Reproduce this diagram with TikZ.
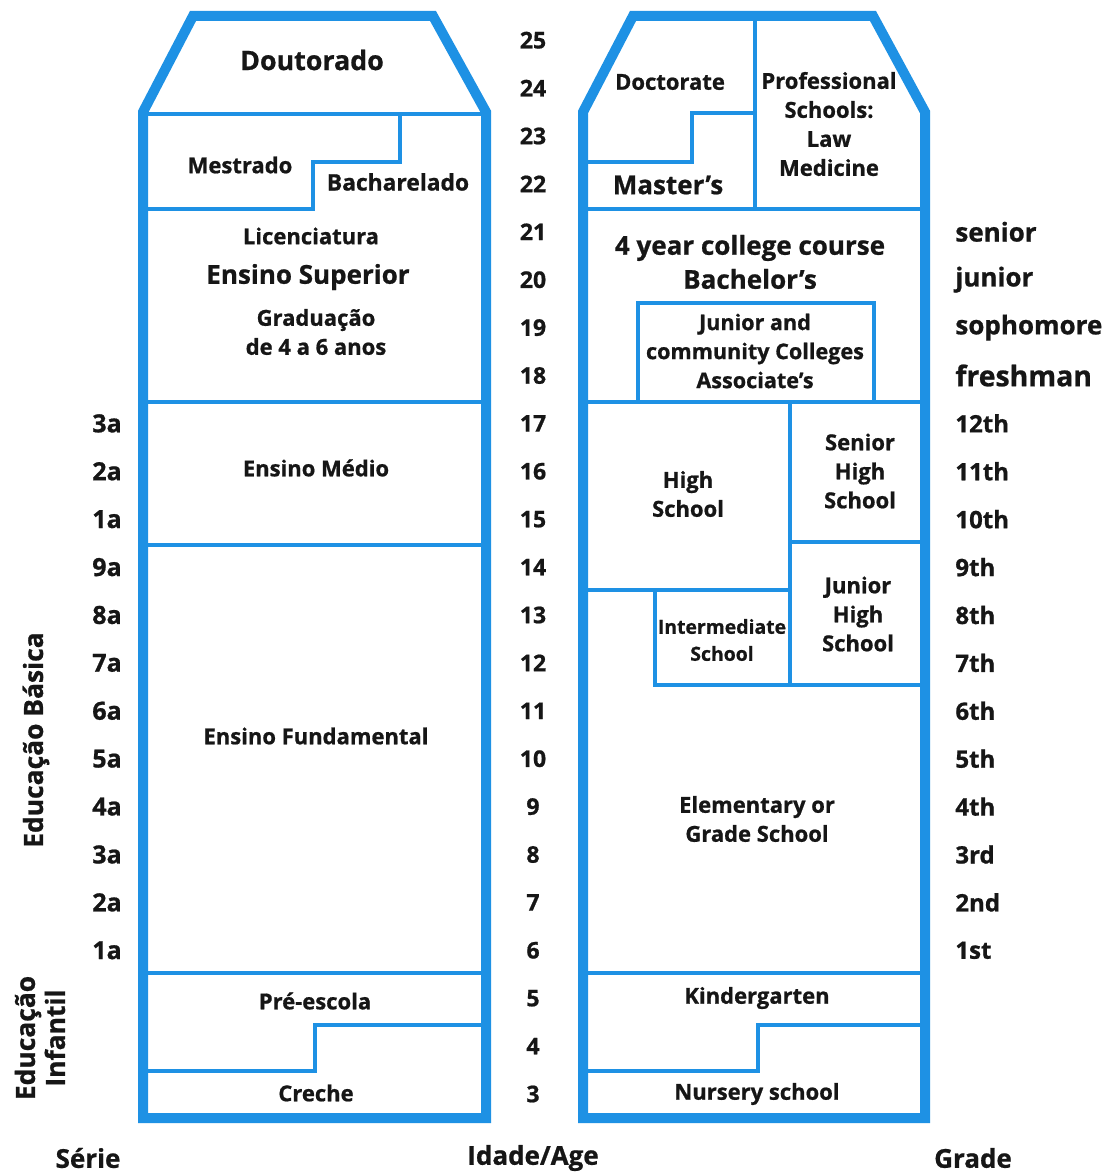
\documentclass[tikz,border=0pt]{standalone}
\usepackage{fontspec}
\setmainfont{Open Sans}[BoldFont={Open Sans Bold}, BoldFeatures={FakeBold=0.8}]
\definecolor{chartblue}{RGB}{30,145,228}
\definecolor{ink}{RGB}{22,22,22}
\tikzset{
  frame/.style  = {draw=chartblue, line width=5pt, line join=miter},
  div/.style    = {draw=chartblue, line width=2pt},
  lab/.style    = {font=\fontsize{11}{14.5}\selectfont\bfseries, text=ink, align=center, inner sep=0pt},
  labsm/.style  = {font=\fontsize{10.8}{14.5}\selectfont\bfseries, text=ink, align=center, inner sep=0pt},
  labbig/.style = {font=\fontsize{13}{17}\selectfont\bfseries, text=ink, align=center, inner sep=0pt},
  num/.style    = {font=\fontsize{11.5}{12}\selectfont\bfseries, text=ink, inner sep=0pt},
  serie/.style  = {font=\fontsize{12.5}{12}\selectfont\bfseries, text=ink, inner sep=0pt},
  grd/.style    = {font=\fontsize{12}{12}\selectfont\bfseries, text=ink, inner sep=0pt, anchor=west},
  grdw/.style   = {font=\fontsize{13}{12}\selectfont\bfseries, text=ink, inner sep=0pt, anchor=west},
  side/.style   = {font=\fontsize{13.2}{15}\selectfont\bfseries, text=ink, align=center, inner sep=0pt, rotate=90},
  foot/.style   = {font=\fontsize{13}{14}\selectfont\bfseries, text=ink, inner sep=0pt},
}
\newcommand{\agey}[1]{1094-(#1-3)*47.9}

\begin{document}
\begin{tikzpicture}[x=0.5pt,y=-0.5pt]
\useasboundingbox (0,0) rectangle (1111,1176);
\fill[white] (0,0) rectangle (1111,1176);

% ======================================================= left column : Brasil
\draw[div] (143,114) -- (486,114);
\draw[div] (486,114) -- (400,114) -- (400,162) -- (313,162) -- (313,209) -- (143,209);
\draw[div] (143,402) -- (486,402);
\draw[div] (143,545) -- (486,545);
\draw[div] (143,973) -- (486,973);
\draw[div] (486,1025) -- (315,1025) -- (315,1071) -- (143,1071);
\draw[frame] (143,1118) -- (143,112) -- (193,16) -- (433,16) -- (486,112) -- (486,1118) -- cycle;

\node[labbig, font=\fontsize{13.4}{16}\selectfont\bfseries] (doutorado) at (312,60) {Doutorado};
\node[lab] (mestrado) at (240,165) {Mestrado};
\node[lab, font=\fontsize{11.4}{14.5}\selectfont\bfseries] (bacharelado) at (398,182) {Bacharelado};
\node[lab] (licenciatura) at (311,236) {Licenciatura};
\node[labbig] (superior) at (308,277) {Ensino Superior};
\node[lab] (graduacao) at (316,332) {Graduação\\de 4 a 6 anos};
\node[lab] (medio) at (316,468) {Ensino Médio};
\node[lab] (fundamental) at (316,736) {Ensino Fundamental};
\node[lab] (preescola) at (315,1001) {Pré-escola};
\node[lab] (creche) at (316,1093) {Creche};

% ======================================================= right column : USA
\draw[div] (755,16) -- (755,209);
\draw[div] (755,113) -- (692,113) -- (692,162) -- (583,162);
\draw[div] (583,209) -- (925,209);
\draw[div] (638,402) -- (638,303) -- (874,303) -- (874,402);
\draw[div] (583,402) -- (925,402);
\draw[div] (790,402) -- (790,685);
\draw[div] (790,542) -- (925,542);
\draw[div] (583,590) -- (790,590);
\draw[div] (655,590) -- (655,685) -- (925,685);
\draw[div] (583,973) -- (925,973);
\draw[div] (925,1025) -- (758,1025) -- (758,1071) -- (583,1071);
\draw[frame] (583,1118) -- (583,112) -- (633,16) -- (873,16) -- (925,112) -- (925,1118) -- cycle;

\node[lab] (doctorate) at (670,82) {Doctorate};
\node[lab] (professional) at (829,124) {Professional\\Schools:\\Law\\Medicine};
\node[labbig] (masters) at (668,185) {Master’s};
\node[labbig] (college) at (750,262) {4 year college course\\Bachelor’s};
\node[labsm] (community) at (755,351) {Junior and\\community Colleges\\Associate’s};
\node[lab] (highschool) at (688,494) {High\\School};
\node[lab] (seniorhigh) at (860,471) {Senior\\High\\School};
\node[lab] (juniorhigh) at (858,614) {Junior\\High\\School};
\node[labsm, font=\fontsize{9.7}{13.5}\selectfont\bfseries] (intermediate) at (722,640) {Intermediate\\School};
\node[lab] (elementary) at (757,819) {Elementary or\\Grade School};
\node[lab] (kindergarten) at (757,998) {Kindergarten};
\node[lab] (nursery) at (757,1094) {Nursery school};

% ======================================================= scales
\foreach \a in {3,...,25}
  \node[num] (age\a) at (533,{\agey{\a}}) {\a};
\foreach \a/\s in {17/3a,16/2a,15/1a,14/9a,13/8a,12/7a,11/6a,10/5a,9/4a,8/3a,7/2a,6/1a}
  \node[serie] (serie\a) at (107,{\agey{\a}}) {\s};
\foreach \a/\g in {21/senior,20/junior,19/sophomore}
  \node[grdw] (grade\a) at (955,{\agey{\a}}) {\g};
\node[grdw, font=\fontsize{14.2}{14}\selectfont\bfseries] (grade18) at (955,{\agey{18}}) {freshman};
\foreach \a/\g in {17/12th,16/11th,15/10th,14/9th,13/8th,12/7th,11/6th,10/5th,9/4th,8/3rd,7/2nd,6/1st}
  \node[grd] (grade\a) at (955,{\agey{\a}}) {\g};

\node[side] (basica) at (36,740) {Educação Básica};
\node[side] (infantil) at (40,1038) {Educação\\Infantil};

\node[foot] (serie) at (88,1158) {Série};
\node[foot] (idade) at (533,1158) {Idade/Age};
\node[foot] (grade) at (973,1158) {Grade};
\end{tikzpicture}
\end{document}
